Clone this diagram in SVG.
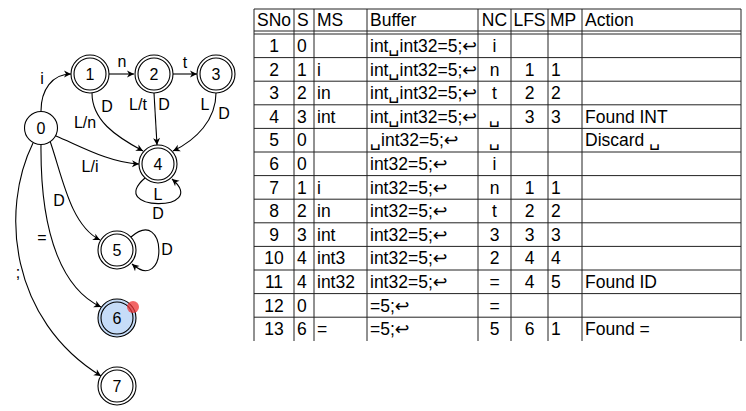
<svg xmlns="http://www.w3.org/2000/svg" width="746" height="411" viewBox="0 0 746 411">
<style>
.bg{fill:#fff}
.st{fill:#fff;stroke:#000;stroke-width:1.1}
.acc{fill:#c6dcf8;stroke:#000;stroke-width:1.1}
.nl{font-family:"Liberation Sans","DejaVu Sans",sans-serif;font-size:16px;text-anchor:middle;fill:#000}
.el{font-family:"Liberation Sans","DejaVu Sans",sans-serif;font-size:16px;text-anchor:middle;fill:#000}
.edge{fill:none;stroke:#000;stroke-width:1.1;marker-end:url(#arr)}
.grid{stroke:#222;stroke-width:1;fill:none}
.t{font-family:"Liberation Sans","DejaVu Sans",sans-serif;font-size:17.5px;fill:#000}
.c{text-anchor:middle}
</style>
<defs>
<marker id="arr" viewBox="-8 -4 9 8" refX="0" refY="0" markerWidth="9" markerHeight="8" markerUnits="userSpaceOnUse" orient="auto">
<path d="M0,0 L-7,-3.5 L-5,0 L-7,3.5 Z" fill="#000"/>
</marker>
</defs>
<rect class="bg" x="0" y="0" width="746" height="411"/>

<g id="connectors">
<path class="edge" d="M41,111 C41,90 52,74 71,74"/>
<path class="edge" d="M109,74 L134,74"/>
<path class="edge" d="M173,74 L197,74"/>
<path class="edge" d="M92,93 C92,120 115,136 143,151"/>
<path class="edge" d="M154,93 L157,145"/>
<path class="edge" d="M216,93 C216,120 196,140 173,151"/>
<path class="edge" d="M56,136 C80,146 110,163 139,164"/>
<path class="edge" d="M145,178 C105,212 211,212 172,179"/>
<path class="edge" d="M50,141 C62,175 70,225 100,240"/>
<path class="edge" d="M131,237 C168,205 168,295 132,264"/>
<path class="edge" d="M41,144 C40,240 65,290 101,307"/>
<path class="edge" d="M33,143 C0,210 10,320 101,376"/>
<text class="el" x="42" y="84">i</text>
<text class="el" x="122" y="67">n</text>
<text class="el" x="185" y="68">t</text>
<text class="el" x="107" y="112">D</text>
<text class="el" x="85" y="128">L/n</text>
<text class="el" x="138" y="110">L/t</text>
<text class="el" x="164" y="110">D</text>
<text class="el" x="205" y="110">L</text>
<text class="el" x="224" y="119">D</text>
<text class="el" x="90" y="172">L/i</text>
<text class="el" x="158" y="200">L</text>
<text class="el" x="158" y="219">D</text>
<text class="el" x="59" y="206">D</text>
<text class="el" x="42" y="243">=</text>
<text class="el" x="18" y="278">;</text>
<text class="el" x="167" y="255">D</text>
</g>

<g id="node0"><circle class="st" cx="41" cy="128" r="16.5"/><text class="nl" x="41" y="134">0</text></g>
<g id="node1"><circle class="st" cx="90" cy="74" r="19"/><circle class="st" cx="90" cy="74" r="16"/><text class="nl" x="90" y="80">1</text></g>
<g id="node2"><circle class="st" cx="154" cy="74" r="19"/><circle class="st" cx="154" cy="74" r="16"/><text class="nl" x="154" y="80">2</text></g>
<g id="node3"><circle class="st" cx="216" cy="74" r="19"/><circle class="st" cx="216" cy="74" r="16"/><text class="nl" x="216" y="80">3</text></g>
<g id="node4"><circle class="st" cx="158" cy="164" r="19"/><circle class="st" cx="158" cy="164" r="16"/><text class="nl" x="158" y="170">4</text></g>
<g id="node5"><circle class="st" cx="117" cy="250" r="19"/><circle class="st" cx="117" cy="250" r="16"/><text class="nl" x="117" y="256">5</text></g>
<g id="node6"><circle class="acc" cx="117" cy="318" r="19"/><circle class="acc" cx="117" cy="318" r="16"/><text class="nl" x="117" y="324">6</text><circle cx="133" cy="307" r="6" fill="#ee3333" opacity="0.75"/></g>
<g id="node7"><circle class="st" cx="117" cy="386" r="19"/><circle class="st" cx="117" cy="386" r="16"/><text class="nl" x="117" y="392">7</text></g>

<g id="table">
<path class="grid" d="M254,9 H741 M254,31 H741 M254,34 H741 M254,57.6 H741 M254,81.2 H741 M254,104.8 H741 M254,128.4 H741 M254,152 H741 M254,175.6 H741 M254,199.2 H741 M254,222.8 H741 M254,246.4 H741 M254,270 H741 M254,293.6 H741 M254,317.2 H741"/>
<path class="grid" d="M254,9 V341 M294,9 V341 M314,9 V341 M367,9 V341 M478,9 V341 M511,9 V341 M548,9 V341 M582,9 V341 M741,9 V341"/>
<g class="t">
<text class="c" x="274" y="26">SNo</text><text x="297" y="26">S</text><text x="317" y="26">MS</text><text x="370" y="26">Buffer</text><text class="c" x="494.5" y="26">NC</text><text class="c" x="529.5" y="26">LFS</text><text x="550" y="26">MP</text><text x="585" y="26">Action</text>
<text class="c" x="274" y="52">1</text><text x="297" y="52">0</text><text x="370" y="52">int␣int32=5;↩</text><text class="c" x="494.5" y="52">i</text>
<text class="c" x="274" y="75.6">2</text><text x="297" y="75.6">1</text><text x="317" y="75.6">i</text><text x="370" y="75.6">int␣int32=5;↩</text><text class="c" x="494.5" y="75.6">n</text><text class="c" x="529.5" y="75.6">1</text><text x="551" y="75.6">1</text>
<text class="c" x="274" y="99.2">3</text><text x="297" y="99.2">2</text><text x="317" y="99.2">in</text><text x="370" y="99.2">int␣int32=5;↩</text><text class="c" x="494.5" y="99.2">t</text><text class="c" x="529.5" y="99.2">2</text><text x="551" y="99.2">2</text>
<text class="c" x="274" y="122.8">4</text><text x="297" y="122.8">3</text><text x="317" y="122.8">int</text><text x="370" y="122.8">int␣int32=5;↩</text><text class="c" x="494.5" y="122.8">␣</text><text class="c" x="529.5" y="122.8">3</text><text x="551" y="122.8">3</text><text x="585" y="122.8">Found INT</text>
<text class="c" x="274" y="146.4">5</text><text x="297" y="146.4">0</text><text x="370" y="146.4">␣int32=5;↩</text><text class="c" x="494.5" y="146.4">␣</text><text x="585" y="146.4">Discard ␣</text>
<text class="c" x="274" y="170">6</text><text x="297" y="170">0</text><text x="370" y="170">int32=5;↩</text><text class="c" x="494.5" y="170">i</text>
<text class="c" x="274" y="193.6">7</text><text x="297" y="193.6">1</text><text x="317" y="193.6">i</text><text x="370" y="193.6">int32=5;↩</text><text class="c" x="494.5" y="193.6">n</text><text class="c" x="529.5" y="193.6">1</text><text x="551" y="193.6">1</text>
<text class="c" x="274" y="217.2">8</text><text x="297" y="217.2">2</text><text x="317" y="217.2">in</text><text x="370" y="217.2">int32=5;↩</text><text class="c" x="494.5" y="217.2">t</text><text class="c" x="529.5" y="217.2">2</text><text x="551" y="217.2">2</text>
<text class="c" x="274" y="240.8">9</text><text x="297" y="240.8">3</text><text x="317" y="240.8">int</text><text x="370" y="240.8">int32=5;↩</text><text class="c" x="494.5" y="240.8">3</text><text class="c" x="529.5" y="240.8">3</text><text x="551" y="240.8">3</text>
<text class="c" x="274" y="264.4">10</text><text x="297" y="264.4">4</text><text x="317" y="264.4">int3</text><text x="370" y="264.4">int32=5;↩</text><text class="c" x="494.5" y="264.4">2</text><text class="c" x="529.5" y="264.4">4</text><text x="551" y="264.4">4</text>
<text class="c" x="274" y="288">11</text><text x="297" y="288">4</text><text x="317" y="288">int32</text><text x="370" y="288">int32=5;↩</text><text class="c" x="494.5" y="288">=</text><text class="c" x="529.5" y="288">4</text><text x="551" y="288">5</text><text x="585" y="288">Found ID</text>
<text class="c" x="274" y="311.6">12</text><text x="297" y="311.6">0</text><text x="370" y="311.6">=5;↩</text><text class="c" x="494.5" y="311.6">=</text>
<text class="c" x="274" y="335.2">13</text><text x="297" y="335.2">6</text><text x="317" y="335.2">=</text><text x="370" y="335.2">=5;↩</text><text class="c" x="494.5" y="335.2">5</text><text class="c" x="529.5" y="335.2">6</text><text x="551" y="335.2">1</text><text x="585" y="335.2">Found =</text>
</g>
</g>
</svg>
